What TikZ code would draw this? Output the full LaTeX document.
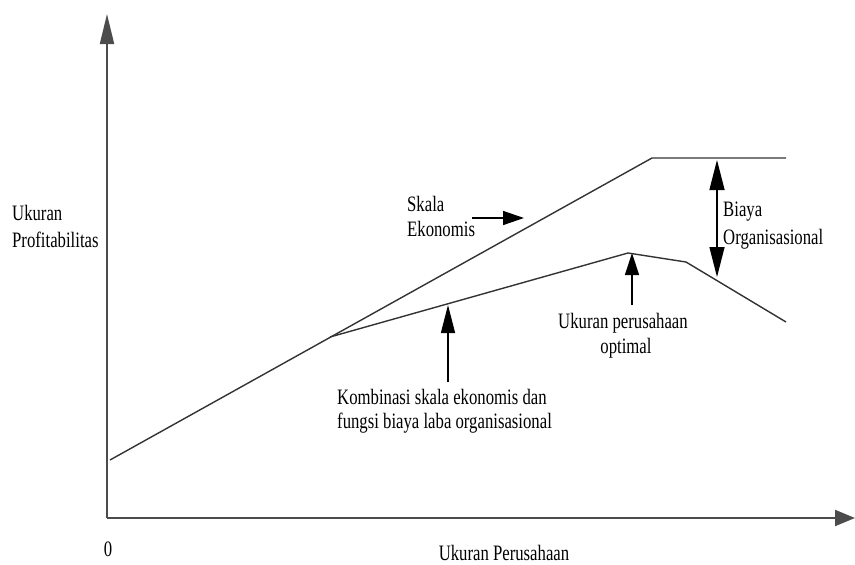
\documentclass[tikz,border=0pt]{standalone}
\usepackage{fontspec}
\setmainfont{Liberation Serif}[FakeStretch=0.76]
\usetikzlibrary{arrows.meta}
\begin{document}
\begin{tikzpicture}[x=1pt,y=-1pt,
  every node/.style={inner sep=0pt,font=\fontsize{22}{26}\selectfont},
  lbl/.style={anchor=base west},
  axisline/.style={draw=black!70,line width=2pt},
  curve/.style={draw=black!80,line width=1.4pt,line join=round},
  bigtip/.style={-{Triangle[length=30pt,width=14pt]}},
  pointer/.style={draw=black,line width=1.4pt}]
\useasboundingbox (0,0) rectangle (855,565);
% axes
\coordinate (O) at (107,518);
\coordinate (Ytop) at (107,14);
\coordinate (Xend) at (855,518);
\draw[axisline,bigtip] (O) -- (Ytop);
\draw[axisline,-{Triangle[length=20pt,width=16pt]}] (O) -- (Xend);
% curves
\coordinate (A0) at (110,460);
\coordinate (A1) at (652,158);
\coordinate (A2) at (786,158);
\coordinate (B0) at (330,337);
\coordinate (B1) at (628,253);
\coordinate (B2) at (686,262);
\coordinate (B3) at (786,322);
\draw[curve] (A0) -- (A1) -- (A2);
\draw[curve] (B0) -- (B1) -- (B2) -- (B3);
% labels
\node[lbl] (yl1) at (12,220) {Ukuran};
\node[lbl] (yl2) at (12,247) {Profitabilitas};
\node[lbl] (sk1) at (407,211) {Skala};
\node[lbl] (sk2) at (407,236) {Ekonomis};
\node[lbl] (bo1) at (723,216) {Biaya};
\node[lbl] (bo2) at (723,244) {Organisasional};
\node[anchor=base] (up1) at (623,328) {Ukuran perusahaan};
\node[anchor=base] (up2) at (626,353) {optimal};
\node[lbl] (kb1) at (337,404) {Kombinasi skala ekonomis dan};
\node[lbl] (kb2) at (337,428) {fungsi biaya laba organisasional};
\node[anchor=base] (zero) at (108,556) {0};
\node[anchor=base] (xl) at (504,560) {Ukuran Perusahaan};
% pointers
\coordinate (skS) at (472,218);
\coordinate (skE) at (524,218);
\draw[pointer,-{Triangle[length=21pt,width=14pt]}] (skS) -- (skE);
\coordinate (bT) at (717,160);
\coordinate (bB) at (717,277);
\draw[pointer,{Triangle[length=30pt,width=15pt]}-{Triangle[length=30pt,width=15pt]}] (bT) -- (bB);
\coordinate (uS) at (632,305);
\coordinate (uE) at (632,253);
\draw[pointer,-{Triangle[length=22pt,width=14pt]}] (uS) -- (uE);
\coordinate (kS) at (448,382);
\coordinate (kE) at (448,305);
\draw[pointer,-{Triangle[length=28pt,width=14pt]}] (kS) -- (kE);
\end{tikzpicture}
\end{document}
